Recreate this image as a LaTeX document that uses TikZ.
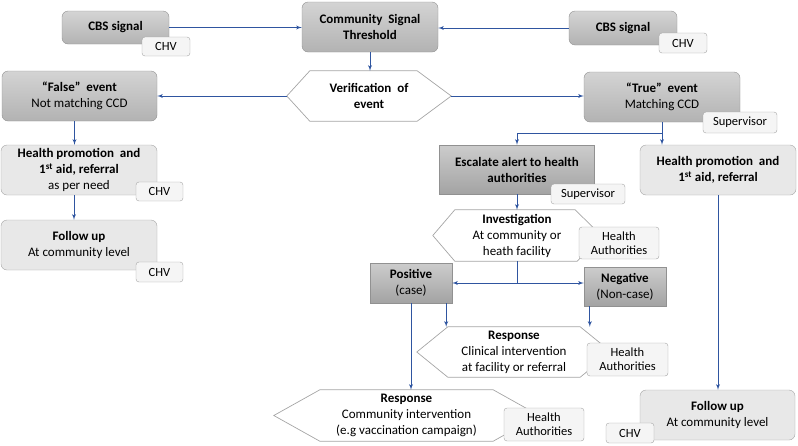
\documentclass[tikz,border=0pt]{standalone}
\usepackage{fontspec}
\setmainfont{Carlito}
\usepackage{tikz}
\usetikzlibrary{shapes,arrows}
\definecolor{arrowblue}{RGB}{47,85,160}
\definecolor{boxline}{RGB}{145,145,145}
\definecolor{tagline}{RGB}{165,165,165}
\tikzstyle{line} = [draw=arrowblue, line width=0.9pt, -latex']
\tikzstyle{darkbox} = [rectangle, draw=boxline, rounded corners=6pt, top color=black!17, bottom color=black!30, align=center, inner sep=0pt, font=\fontsize{13}{16}\selectfont]
\tikzstyle{alertbox} = [rectangle, draw=boxline, top color=black!20, bottom color=black!36, align=center, inner sep=0pt, font=\fontsize{13}{16}\selectfont]
\tikzstyle{lightbox} = [rectangle, draw=tagline, rounded corners=6pt, fill=black!9, align=center, inner sep=0pt, font=\fontsize{13}{16}\selectfont]
\tikzstyle{tag} = [rectangle, draw=tagline, rounded corners=3pt, fill=black!4, align=center, inner sep=0pt, font=\fontsize{12.5}{14}\selectfont]
\tikzstyle{hextext} = [rectangle, align=center, inner sep=0pt, font=\fontsize{13}{16}\selectfont]
\tikzstyle{hexline} = [draw=tagline, line width=0.7pt]

\begin{document}
\begin{tikzpicture}[x=1pt, y=-1pt]
	\useasboundingbox (0,0) rectangle (798,445);
	
	% top row
	\node [darkbox, minimum width=107pt, minimum height=33pt] (cbs1) at (115.5,27.5) {\textbf{CBS signal}};
	\node [darkbox, minimum width=136pt, minimum height=50pt] (cst) at (370,27) {\textbf{Community\ \ Signal}\\\textbf{Threshold}};
	\node [darkbox, minimum width=108pt, minimum height=34pt] (cbs2) at (623,28) {\textbf{CBS signal}};
	
	\node [hextext, minimum width=164pt, minimum height=50pt] (verif) at (369,96) {\textbf{Verification\ \ of}\\\textbf{event}};
	\draw [hexline] (verif.west) -- ([xshift=23pt]verif.north west) -- ([xshift=-34pt]verif.north east) -- (verif.east) -- ([xshift=-34pt]verif.south east) -- ([xshift=23pt]verif.south west) -- cycle;
	
	\node [darkbox, minimum width=155pt, minimum height=50pt] (false) at (79.5,96) {\textbf{“False”\ \ event}\\Not matching CCD};
	\node [darkbox, minimum width=156pt, minimum height=50pt] (true) at (662,97) {\textbf{“True”\ \ event}\\Matching CCD};
	
	% left column
	\node [lightbox, minimum width=156pt, minimum height=50pt] (hp1) at (79,170) {\textbf{Health promotion\ \ and}\\\textbf{1\textsuperscript{st} aid, referral}\\as per need};
	\node [lightbox, minimum width=156pt, minimum height=50pt] (fu1) at (79,245) {\textbf{Follow up}\\At community level};
	
	% right part
	\node [alertbox, minimum width=155pt, minimum height=49pt] (esc) at (517,169.5) {\textbf{Escalate alert to health}\\\textbf{authorities}};
	\node [lightbox, minimum width=156pt, minimum height=50pt] (hp2) at (718,170) {\textbf{Health promotion\ \ and}\\\textbf{1\textsuperscript{st} aid, referral}};
	
	\node [hextext, minimum width=168pt, minimum height=51pt] (inv) at (517,235.5) {\textbf{Investigation}\\At community or\\heath facility};
	\draw [hexline] (inv.west) -- ([xshift=22pt]inv.north west) -- ([xshift=-26pt]inv.north east) -- (inv.east) -- ([xshift=-24pt]inv.south east) -- ([xshift=22pt]inv.south west) -- cycle;
	
	\node [alertbox, minimum width=82pt, minimum height=40pt] (pos) at (411,283) {\textbf{Positive}\\(case)};
	\node [alertbox, minimum width=82pt, minimum height=39pt] (neg) at (625,286.5) {\textbf{Negative}\\(Non-case)};
	
	\node [hextext, minimum width=194pt, minimum height=50pt] (cli) at (514,352) {\textbf{Response}\\Clinical intervention\\at facility or referral};
	\draw [hexline] (cli.west) -- ([xshift=31pt]cli.north west) -- ([xshift=-31pt]cli.north east) -- (cli.east) -- ([xshift=-31pt]cli.south east) -- ([xshift=31pt]cli.south west) -- cycle;
	
	\node [hextext, minimum width=265pt, minimum height=51pt] (com) at (406.5,415.5) {\textbf{Response}\\Community intervention\\(e.g vaccination campaign)};
	\draw [hexline] (com.west) -- ([xshift=46pt]com.north west) -- ([xshift=-46pt]com.north east) -- (com.east) -- ([xshift=-46pt]com.south east) -- ([xshift=46pt]com.south west) -- cycle;
	
	\node [lightbox, minimum width=155pt, minimum height=50pt] (fu2) at (717.5,415) {\textbf{Follow up}\\At community level};
	
	% role tags
	\node [tag, minimum width=48pt, minimum height=19pt] (chv1) at (166,46.5) {CHV};
	\node [tag, minimum width=48pt, minimum height=20pt] (chv2) at (683,43) {CHV};
	\node [tag, minimum width=74pt, minimum height=21pt] (sup1) at (740,122.5) {Supervisor};
	\node [tag, minimum width=47pt, minimum height=19pt] (chv3) at (159.5,191.5) {CHV};
	\node [tag, minimum width=47pt, minimum height=20pt] (chv4) at (159.5,272) {CHV};
	\node [tag, minimum width=74pt, minimum height=20pt] (sup2) at (588,194) {Supervisor};
	\node [tag, minimum width=80pt, minimum height=32pt] (ha1) at (619,243) {Health\\Authorities};
	\node [tag, minimum width=81pt, minimum height=33pt] (ha2) at (627.5,359.5) {Health\\Authorities};
	\node [tag, minimum width=80pt, minimum height=33pt] (ha3) at (544,424.5) {Health\\Authorities};
	\node [tag, minimum width=48pt, minimum height=20pt] (chv5) at (630,433) {CHV};
	
	% connectors
	\path [line] (cbs1.east) -- (cbs1.east -| cst.west);
	\path [line] (cbs2.west) -- (cbs2.west -| cst.east);
	\path [line] (cst.south) -- (cst.south |- verif.north);
	\path [line] (verif.west) -- (false.east);
	\path [line] (verif.east) -- (verif.east -| true.west);
	\path [line] ([xshift=-5pt]false.south) -- ([xshift=-5pt]false.south |- hp1.north);
	\path [line] ([xshift=-5pt]hp1.south) -- ([xshift=-5pt]hp1.south |- fu1.north);
	
	\coordinate (split1) at (662,133);
	\path [line] (true.south) -- (true.south |- hp2.north);
	\path [line] (split1) -| (esc.north);
	\path [line] (esc.south) -- (inv.north);
	
	\coordinate (split2) at (517,283);
	\draw [arrowblue, line width=0.9pt] (inv.south) -- (split2);
	\path [line] (split2) -- (split2 -| pos.east);
	\path [line] (split2) -- (split2 -| neg.west);
	
	\path [line] ([xshift=-6pt]pos.south east) -- ([xshift=-6pt]pos.south east |- cli.north);
	\path [line] ([xshift=6pt]neg.south west) -- ([xshift=6pt]neg.south west |- cli.north);
	\path [line] (pos.south) -- (pos.south |- com.north);
	\path [line] (hp2.south) -- (hp2.south |- fu2.north);
\end{tikzpicture}
\end{document}
